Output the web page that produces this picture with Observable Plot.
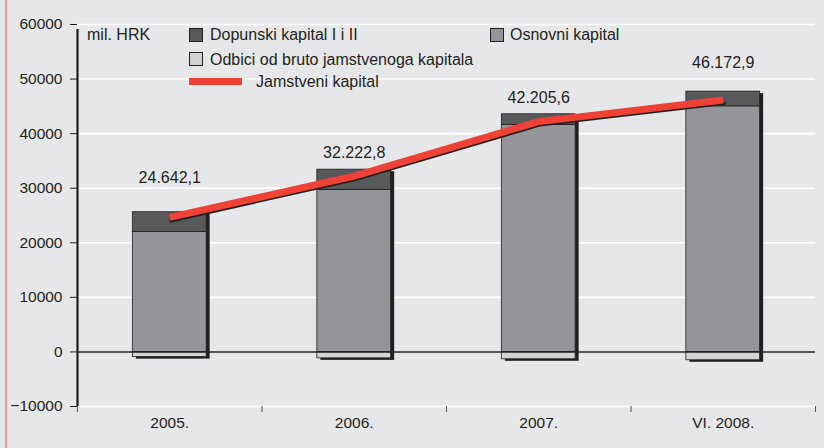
<!DOCTYPE html>
<html>
<head>
<meta charset="utf-8">
<script src="https://cdn.jsdelivr.net/npm/d3@7"></script>
<script src="https://cdn.jsdelivr.net/npm/@observablehq/plot@0.6"></script>
<style>
  html, body { margin: 0; padding: 0; background: #e6e7e8; }
  #wrap { position: relative; width: 824px; height: 448px; font-family: "Liberation Sans", Arial, sans-serif; color: #231f20; }
  #pink { position: absolute; left: 5px; top: 0; width: 1.5px; height: 448px; background: #f19c94; }
  .leg { position: absolute; font-size: 16px; line-height: 16px; white-space: nowrap; }
  .sw { position: absolute; width: 14px; height: 14px; border: 1px solid #231f20; box-sizing: border-box; }
</style>
</head>
<body>
<div id="wrap"><div id="pink"></div></div>
<script>
// ---- data ----
const categories = ["2005.", "2006.", "2007.", "VI. 2008."];
const osnovni   = [22000, 29700, 41600, 45000];   // Osnovni kapital
const dopunski  = [3600, 3700, 1950, 2700];       // Dopunski kapital I i II
const odbici    = [-950, -1180, -1350, -1530];    // Odbici od bruto jamstvenoga kapitala
const jamstveni = [24642.1, 32222.8, 42205.6, 46172.9]; // Jamstveni kapital
const yTicks = [-10000, 0, 10000, 20000, 30000, 40000, 50000, 60000];
const unitLabel = "mil. HRK";
const legendNames = {
  dop: "Dopunski kapital I i II",
  osn: "Osnovni kapital",
  odb: "Odbici od bruto jamstvenoga kapitala",
  jam: "Jamstveni kapital"
};

// ---- build ----
const rows = categories.map((c, i) => ({
  i, c,
  osn: osnovni[i], dop: dopunski[i], odb: odbici[i], jam: jamstveni[i],
  top: osnovni[i] + dopunski[i]
}));
const hr = d3.formatLocale({decimal: ",", thousands: ".", grouping: [3]}).format(",.1f");
const labelLift = [34, 17, 16, 29];
const fmtY = d => d < 0 ? "\u2212" + (-d) : String(d);

const colors = {osn: "#939598", dop: "#58595b", odb: "#d1d3d4", jam: "#ef4136", ink: "#231f20"};

const plot = Plot.plot({
  width: 824,
  height: 448,
  marginLeft: 77,
  marginRight: 9,
  marginTop: 24,
  marginBottom: 42,
  style: {background: "transparent", fontFamily: "'Liberation Sans', Arial, sans-serif", fontSize: "15px", color: "#231f20"},
  x: {domain: [0, categories.length], axis: null},
  y: {domain: [-10000, 60000], axis: null},
  marks: [
    Plot.ruleY(yTicks, {stroke: "#ffffff", strokeWidth: 1.6}),
    // shadow
    Plot.rectY(rows, {x1: d => d.i + 0.3, x2: d => d.i + 0.7, y1: "odb", y2: "top", fill: colors.ink, dx: 3.5, dy: 2}),
    // odbici
    Plot.rectY(rows, {x1: d => d.i + 0.3, x2: d => d.i + 0.7, y1: "odb", y2: 0, fill: colors.odb, stroke: colors.ink, strokeWidth: 0.8}),
    // osnovni
    Plot.rectY(rows, {x1: d => d.i + 0.3, x2: d => d.i + 0.7, y1: 0, y2: "osn", fill: colors.osn, stroke: colors.ink, strokeWidth: 0.8}),
    // dopunski
    Plot.rectY(rows, {x1: d => d.i + 0.3, x2: d => d.i + 0.7, y1: "osn", y2: "top", fill: colors.dop, stroke: colors.ink, strokeWidth: 0.8}),
    // zero line
    Plot.ruleY([0], {stroke: colors.ink, strokeWidth: 1.6}),
    // line shadow + line
    Plot.line(rows, {x: d => d.i + 0.5, y: "jam", stroke: colors.ink, strokeWidth: 3, dy: 3.5, dx: 1}),
    Plot.line(rows, {x: d => d.i + 0.5, y: "jam", stroke: colors.jam, strokeWidth: 7, strokeLinecap: "butt"}),
    // value labels
    ...rows.map((r, k) => Plot.text([r], {x: d => d.i + 0.5, y: "top", text: d => hr(d.jam), dy: -labelLift[k], fontSize: 16, fill: colors.ink})),
    // y axis
    Plot.axisY({ticks: yTicks, tickSize: 7, tickPadding: 8, tickFormat: fmtY, fontSize: 15.5, stroke: colors.ink, strokeWidth: 1, label: null}),
    Plot.ruleX([0], {y1: -10000, y2: 60000, stroke: colors.ink, strokeWidth: 2.2, insetBottom: -5}),
    // x ticks at boundaries
    Plot.axisX({ticks: d3.range(categories.length + 1), tickSize: 6, tickFormat: () => "", stroke: "#555", strokeWidth: 1, label: null}),
    Plot.axisX({ticks: categories.map((_, i) => i + 0.5), tickSize: 0, tickPadding: 10, tickFormat: t => categories[t - 0.5], fontSize: 15.5, label: null})
  ]
});
const wrap = document.getElementById("wrap");
plot.style.position = "absolute";
plot.style.left = "0";
plot.style.top = "0";
wrap.appendChild(plot);

// legend overlay
function add(html, css) {
  const el = document.createElement("div");
  el.innerHTML = html;
  const n = el.firstChild;
  Object.assign(n.style, css);
  wrap.appendChild(n);
}
add(`<div class="leg">${unitLabel}</div>`, {left: "87px", top: "27px"});
add(`<div class="sw"></div>`, {left: "189px", top: "28px", background: colors.dop});
add(`<div class="leg">${legendNames.dop}</div>`, {left: "210px", top: "27px"});
add(`<div class="sw"></div>`, {left: "490px", top: "28px", background: colors.osn});
add(`<div class="leg">${legendNames.osn}</div>`, {left: "510px", top: "27px"});
add(`<div class="sw"></div>`, {left: "189px", top: "52px", background: colors.odb});
add(`<div class="leg">${legendNames.odb}</div>`, {left: "210px", top: "52px"});
add(`<div></div>`, {position: "absolute", left: "189px", top: "78px", width: "53px", height: "7px", background: colors.jam});
add(`<div class="leg">${legendNames.jam}</div>`, {left: "256px", top: "74px"});
</script>
</body>
</html>
